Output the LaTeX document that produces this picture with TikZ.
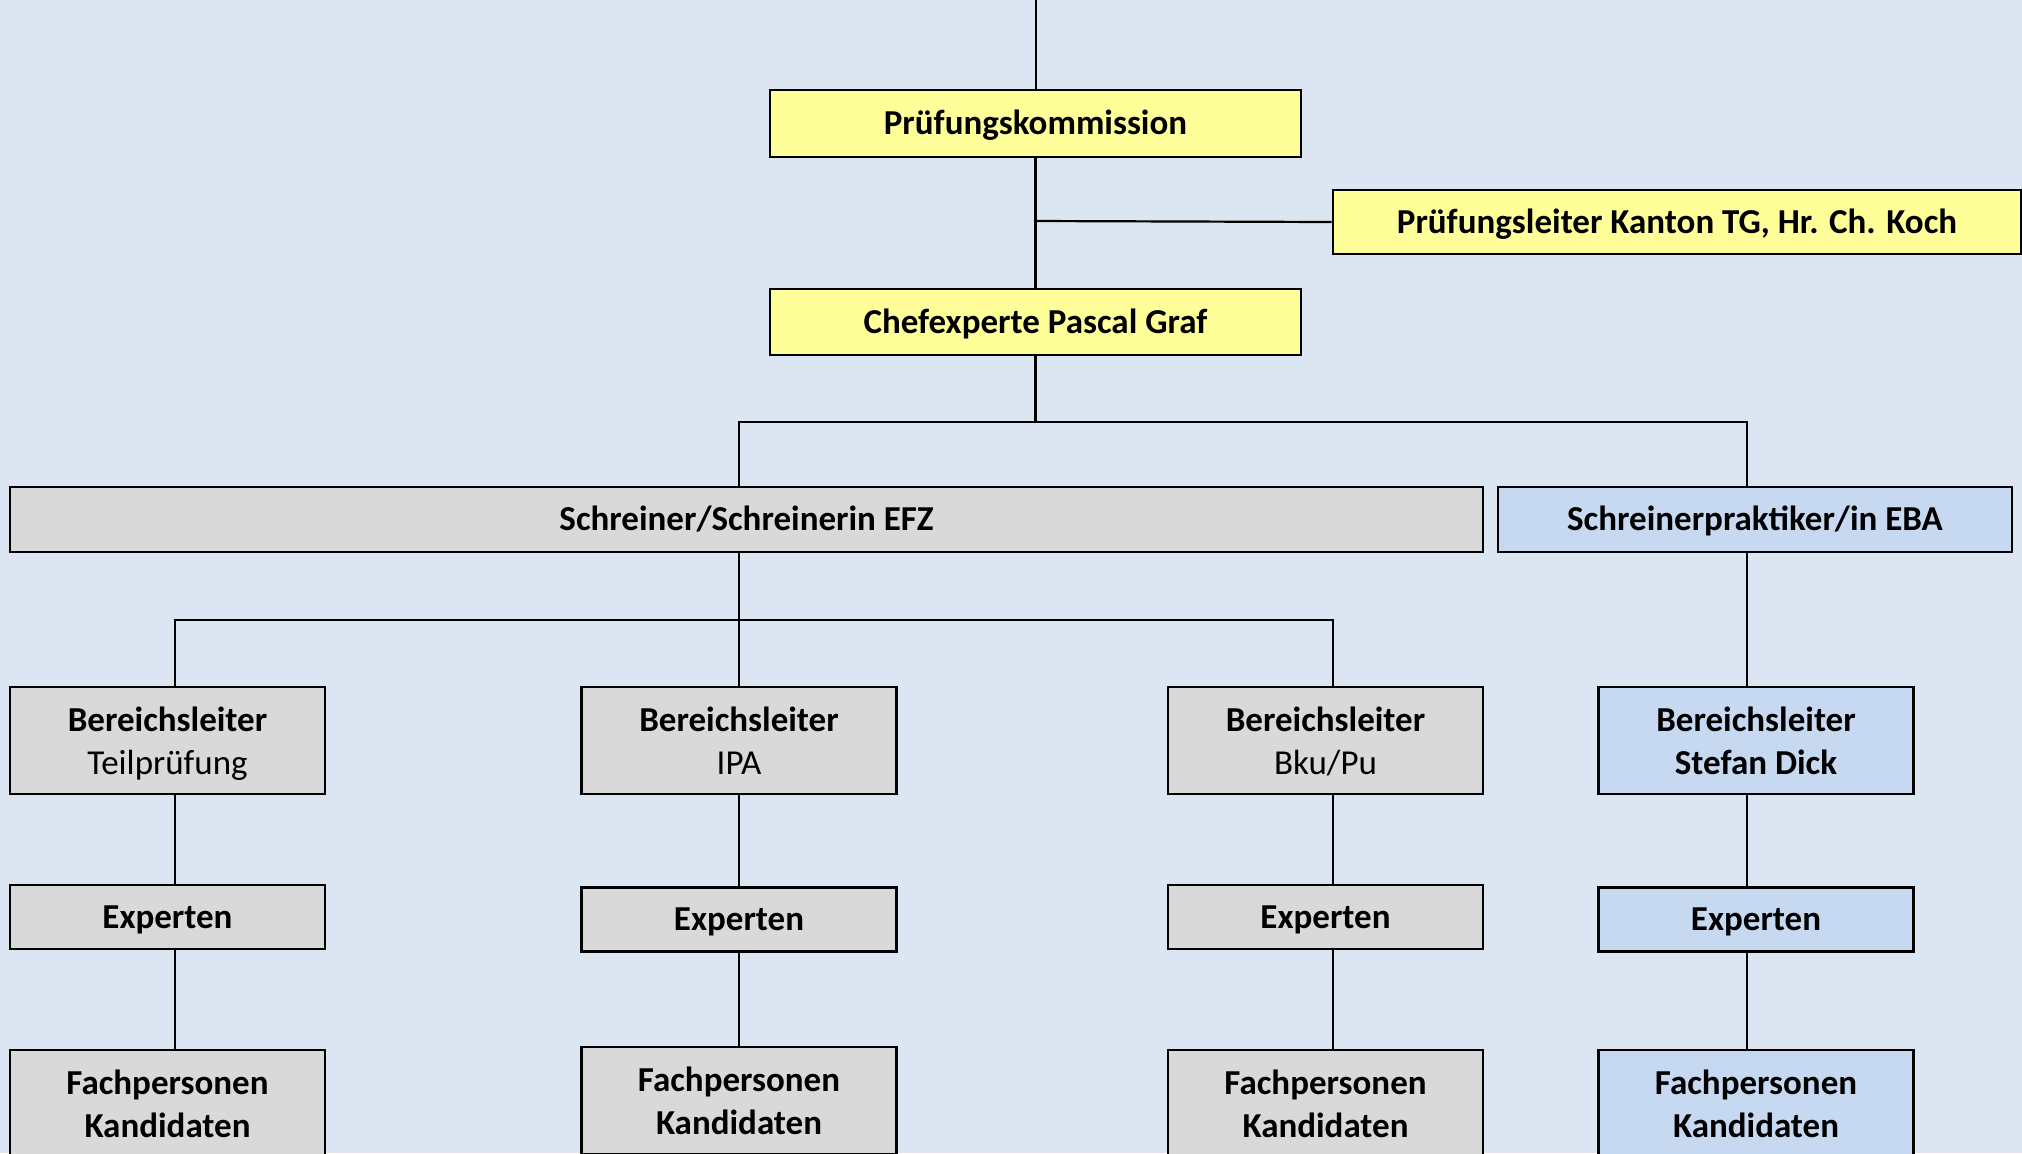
\documentclass[tikz,border=0pt]{standalone}
\usepackage{fontspec}
\setmainfont{Carlito}
\definecolor{bg}{HTML}{DCE6F2}
\definecolor{yel}{HTML}{FFFF99}
\definecolor{gry}{HTML}{D9D9D9}
\definecolor{blu}{HTML}{C6D9F1}
\begin{document}
\begin{tikzpicture}[x=0.5pt,y=-0.5pt,
  box/.style={draw=black,line width=1.3pt,rectangle,inner sep=0pt,align=center,
    font=\fontsize{17.5}{21.5}\selectfont,text height=14.5pt,text depth=3.2pt},
  two/.style={text height=37pt,text depth=3.5pt},
  ybox/.style={box,fill=yel},
  gbox/.style={box,fill=gry},
  bbox/.style={box,fill=blu},
  wide/.style={minimum width=265.5pt,minimum height=33.5pt},
  small/.style={minimum width=157.5pt,minimum height=32pt},
  tall/.style={two,minimum width=157.5pt,minimum height=53.5pt},
  conn/.style={line width=1.1pt}]
\useasboundingbox (0,0) rectangle (2022,1153);
\clip (0,0) rectangle (2022,1153);
\fill[bg] (0,0) rectangle (2022,1153);

% top level
\node[ybox,wide] (PK) at (1035.5,123.5) {\bfseries Prüfungskommission};
\node[ybox,minimum width=344pt,minimum height=32pt] (PL) at (1677,222) {\bfseries Prüfungsleiter Kanton TG, Hr. Ch. Koch};
\node[ybox,wide,minimum height=33pt] (CE) at (1035.5,322) {\bfseries Chefexperte Pascal Graf};

\node[gbox,minimum width=736.5pt,minimum height=32.5pt] (EFZ) at (746.5,519.5) {\bfseries Schreiner/Schreinerin EFZ};
\node[bbox,minimum width=257pt,minimum height=32.5pt] (EBA) at (1755,519.5) {\bfseries Schreinerpraktiker/in EBA};

% Bereichsleiter
\node[gbox,tall] (BL1) at (167.5,740.5) {\bfseries Bereichsleiter\\Teilprüfung};
\node[gbox,tall] (BL2) at (739,740.5) {\bfseries Bereichsleiter\\IPA};
\node[gbox,tall] (BL3) at (1325.5,740.5) {\bfseries Bereichsleiter\\Bku/Pu};
\node[bbox,tall] (BL4) at (1756,740.5) {\bfseries Bereichsleiter\\\bfseries Stefan Dick};

% Experten
\node[gbox,small] (E1) at (167.5,917) {\bfseries Experten};
\node[gbox,small] (E2) at (739,919.5) {\bfseries Experten};
\node[gbox,small] (E3) at (1325.5,917) {\bfseries Experten};
\node[bbox,small] (E4) at (1756,919.5) {\bfseries Experten};

% Fachpersonen
\node[gbox,tall] (F1) at (167.5,1103.5) {\bfseries Fachpersonen\\\bfseries Kandidaten};
\node[gbox,tall] (F2) at (739,1100.5) {\bfseries Fachpersonen\\\bfseries Kandidaten};
\node[gbox,tall] (F3) at (1325.5,1103.5) {\bfseries Fachpersonen\\\bfseries Kandidaten};
\node[bbox,tall] (F4) at (1756,1103.5) {\bfseries Fachpersonen\\\bfseries Kandidaten};

% connectors
\coordinate (topend) at (1036,0);
\coordinate (J1) at (1035.5,221);
\coordinate (J2) at (1035.5,422);
\coordinate (h1) at (739,422);
\coordinate (h2) at (1747,422);
\coordinate (k1) at (175,620);
\coordinate (k3) at (1333,620);

\draw[conn] (topend) -- (PK.north -| topend);
\draw[conn] (PK.south) -- (CE.north);
\draw[conn] (J1) -- (PL.west);
\draw[conn] (CE.south) -- (J2);
\draw[conn] (EFZ.north -| h1) -- (h1) -- (h2) -- (EBA.north -| h2);
\draw[conn] (EFZ.south -| h1) -- (BL2.north -| h1);
\draw[conn] (BL1.north -| k1) -- (k1) -- (k3) -- (BL3.north -| k3);
\draw[conn] (EBA.south -| h2) -- (BL4.north -| h2);

\draw[conn] (BL1.south -| k1) -- (E1.north -| k1);
\draw[conn] (E1.south -| k1) -- (F1.north -| k1);
\draw[conn] (BL2.south -| h1) -- (E2.north -| h1);
\draw[conn] (E2.south -| h1) -- (F2.north -| h1);
\draw[conn] (BL3.south -| k3) -- (E3.north -| k3);
\draw[conn] (E3.south -| k3) -- (F3.north -| k3);
\draw[conn] (BL4.south -| h2) -- (E4.north -| h2);
\draw[conn] (E4.south -| h2) -- (F4.north -| h2);
\end{tikzpicture}
\end{document}
